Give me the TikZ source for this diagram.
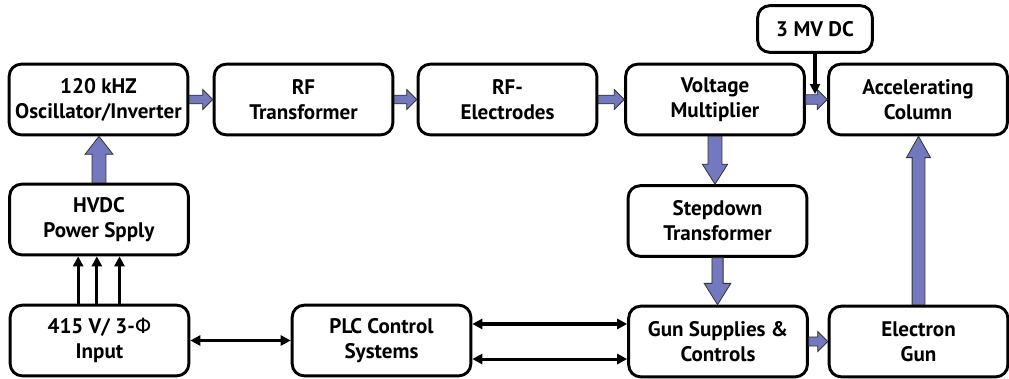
\documentclass[tikz,border=0pt]{standalone}
\usepackage{fontspec}
\setmainfont{PT Sans}
\newfontfamily\phifont{DejaVu Sans}
\usetikzlibrary{arrows.meta,calc}
\definecolor{blkblue}{RGB}{116,120,190}
\newcommand\barrowR[5]{\draw[blk] let \p1=(#1),\p2=(#2) in
  (\x1,\y1-#3) -- (\x2-#5,\y1-#3) -- (\x2-#5,\y1-#4) -- (\x2,\y1) -- (\x2-#5,\y1+#4) -- (\x2-#5,\y1+#3) -- (\x1,\y1+#3) -- cycle;}
\newcommand\barrowUp[5]{\draw[blk] let \p1=(#1),\p2=(#2) in
  (\x1-#3,\y1) -- (\x1-#3,\y2-#5) -- (\x1-#4,\y2-#5) -- (\x1,\y2) -- (\x1+#4,\y2-#5) -- (\x1+#3,\y2-#5) -- (\x1+#3,\y1) -- cycle;}
\newcommand\barrowDown[5]{\draw[blk] let \p1=(#1),\p2=(#2) in
  (\x1-#3,\y1) -- (\x1-#3,\y2+#5) -- (\x1-#4,\y2+#5) -- (\x1,\y2) -- (\x1+#4,\y2+#5) -- (\x1+#3,\y2+#5) -- (\x1+#3,\y1) -- cycle;}
\begin{document}
\begin{tikzpicture}[x=0.75pt,y=-0.75pt,
  box/.style={draw=black,line width=2.2pt,rounded corners=9pt,fill=white,
    minimum width=134pt,minimum height=53pt,inner sep=0pt,align=center,
    font=\fontsize{15.8}{18.75}\selectfont\bfseries},
  blk/.style={draw=black!80,line width=0.6pt,fill=blkblue},
  thinarr/.style={draw=black,line width=2.3pt,-{Triangle[length=7.5pt,width=7.5pt]}},
  dblarr/.style={draw=black,line width=2.3pt,{Triangle[length=7.5pt,width=7.5pt]}-{Triangle[length=7.5pt,width=7.5pt]}}]
\useasboundingbox (0,0) rectangle (1009,378);
\node[box] (osc) at (98.5,99.5) {120 kHZ\\Oscillator/Inverter};
\node[box] (rft) at (303.5,99.5) {RF\\Transformer};
\node[box] (rfe) at (507.5,99.5) {RF-\\Electrodes};
\node[box] (vm) at (715,99.5) {Voltage\\Multiplier};
\node[box] (acc) at (918,99.5) {Accelerating\\Column};
\node[box,minimum width=86pt,minimum height=35pt] (mv) at (815,29) {3 MV DC};
\node[box] (hvdc) at (99,219.5) {HVDC\\Power Spply};
\node[box] (sd) at (717.5,221) {Stepdown\\Transformer};
\node[box] (inp) at (99.5,340.5) {415 V/ 3-{\phifont\mdseries Φ}\\Input};
\node[box] (plc) at (381.5,340.5) {PLC Control\\Systems};
\node[box] (gun) at (718,341.5) {Gun Supplies \&\\Controls};
\node[box] (eg) at (918.5,341.5) {Electron\\Gun};
% block arrows
\barrowR{osc.east}{rft.west}{3.2pt}{7.5pt}{7.5pt}
\barrowR{rft.east}{rfe.west}{3.2pt}{7.5pt}{7.5pt}
\barrowR{rfe.east}{vm.west}{3.2pt}{7.5pt}{7.5pt}
\barrowR{vm.east}{acc.west}{3.5pt}{7.5pt}{7.5pt}
\barrowR{gun.east}{eg.west}{3.4pt}{7.5pt}{7.5pt}
\barrowUp{hvdc.north}{osc.south}{5.2pt}{10.5pt}{13.5pt}
\barrowDown{vm.south}{sd.north}{5.2pt}{9.5pt}{15pt}
\barrowDown{sd.south}{gun.north}{4.2pt}{10pt}{16pt}
\barrowUp{eg.north}{acc.south}{4.8pt}{9pt}{16pt}
% thin arrows
\coordinate (mvend) at (815,94);
\draw[thinarr] (mv.south) -- (mvend);
\draw[thinarr] ([xshift=-16pt]inp.north) -- ([xshift=-16pt]inp.north |- hvdc.south);
\draw[thinarr] ([xshift=-2pt]inp.north) -- ([xshift=-2pt]inp.north |- hvdc.south);
\draw[thinarr] ([xshift=15pt]inp.north) -- ([xshift=15pt]inp.north |- hvdc.south);
\draw[dblarr] (inp.east) -- (plc.west);
\draw[dblarr] ([yshift=12.4pt]plc.east) -- ([yshift=12.4pt]plc.east -| gun.west);
\draw[dblarr] ([yshift=-13.9pt]plc.east) -- ([yshift=-13.9pt]plc.east -| gun.west);
\end{tikzpicture}
\end{document}
